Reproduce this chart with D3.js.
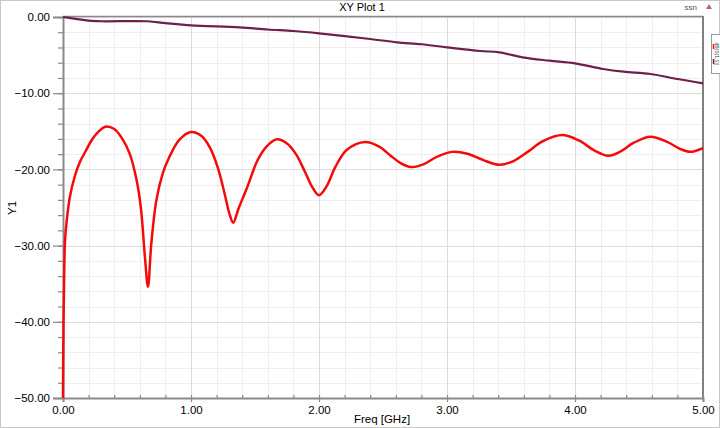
<!DOCTYPE html>
<html><head><meta charset="utf-8">
<script src="https://cdn.jsdelivr.net/npm/d3@7"></script>
<style>body{margin:0;background:#fff}svg{display:block;font-family:"Liberation Sans",Arial,sans-serif}</style>
</head><body>
<svg id="c" width="720" height="428"></svg>
<script>
const title = "XY Plot 1";
const xLabel = "Freq [GHz]";
const yLabel = "Y1";
const xTicks = [0, 1, 2, 3, 4, 5];
const yTicks = [0, -10, -20, -30, -40, -50];

const redFreq = [0,0.004,0.01,0.016,0.03,0.055,0.094,0.133,0.18,0.23,0.28,0.33,0.40,0.46,0.52,0.575,0.61,0.64,0.664,0.69,0.73,0.78,0.83,0.91,1.0,1.08,1.15,1.21,1.26,1.30,1.33,1.37,1.44,1.52,1.59,1.67,1.75,1.82,1.89,1.95,2.0,2.06,2.13,2.22,2.36,2.47,2.56,2.64,2.73,2.82,2.92,3.04,3.16,3.28,3.41,3.52,3.63,3.75,3.90,4.03,4.15,4.26,4.35,4.46,4.59,4.72,4.82,4.9,5.0];
const redDb = [-50,-40,-33,-29.3,-26.6,-23.5,-20.8,-19.0,-17.5,-16.0,-15.0,-14.4,-14.7,-15.9,-17.9,-21.4,-25.3,-31.5,-35.4,-29.7,-24.0,-20.5,-18.4,-16.1,-15.1,-15.6,-17.2,-19.8,-23.0,-25.8,-27.0,-25.2,-22.3,-18.8,-17.0,-16.05,-16.6,-18.0,-20.3,-22.4,-23.4,-22.2,-19.6,-17.4,-16.4,-17.0,-18.2,-19.2,-19.7,-19.3,-18.35,-17.7,-17.95,-18.75,-19.4,-18.9,-17.7,-16.3,-15.5,-16.2,-17.5,-18.2,-17.7,-16.5,-15.7,-16.4,-17.3,-17.7,-17.2];

const purpleFreq = [0,0.1,0.2,0.3,0.66,0.8,1.0,1.38,1.6,1.8,2.0,2.4,2.61,2.8,3.0,3.26,3.41,3.59,3.8,4.0,4.22,4.38,4.59,4.8,5.0];
const purpleDb = [0,-0.25,-0.48,-0.56,-0.56,-0.8,-1.1,-1.35,-1.64,-1.84,-2.14,-2.89,-3.32,-3.58,-3.98,-4.46,-4.64,-5.29,-5.73,-6.08,-6.82,-7.18,-7.48,-8.14,-8.7];

const svg = d3.select("#c");
const L = 63, R = 703, T = 17, B = 398;
const x = d3.scaleLinear().domain([0, 5]).range([L, R]);
const y = d3.scaleLinear().domain([-50, 0]).range([B, T]);

// outer border
svg.append("rect").attr("x", 0.5).attr("y", 0.5).attr("width", 719).attr("height", 427)
  .attr("fill", "#fff").attr("stroke", "#c8c8c8");

// grid
const minorX = d3.range(0, 5.0001, 0.2);
const minorY = d3.range(-50, 0.0001, 2);
const g = svg.append("g");
g.selectAll(".mx").data(minorX).join("line")
  .attr("x1", d => Math.round(x(d)) + 0.5).attr("x2", d => Math.round(x(d)) + 0.5)
  .attr("y1", T).attr("y2", B).attr("stroke", "#efefef");
g.selectAll(".my").data(minorY).join("line")
  .attr("y1", d => Math.round(y(d)) + 0.5).attr("y2", d => Math.round(y(d)) + 0.5)
  .attr("x1", L).attr("x2", R).attr("stroke", "#efefef");
g.selectAll(".Mx").data(xTicks).join("line")
  .attr("x1", d => Math.round(x(d)) + 0.5).attr("x2", d => Math.round(x(d)) + 0.5)
  .attr("y1", T).attr("y2", B).attr("stroke", "#dcdcdc");
g.selectAll(".My").data(yTicks).join("line")
  .attr("y1", d => Math.round(y(d)) + 0.5).attr("y2", d => Math.round(y(d)) + 0.5)
  .attr("x1", L).attr("x2", R).attr("stroke", "#dcdcdc");

// frame lines
svg.append("line").attr("x1", L).attr("x2", R).attr("y1", T - 0.5).attr("y2", T - 0.5).attr("stroke", "#8a8a8a").attr("stroke-width", 1.5);
svg.append("line").attr("x1", R).attr("x2", R).attr("y1", T - 1).attr("y2", B + 1).attr("stroke", "#808080").attr("stroke-width", 2);

// axes
const xAxis = d3.axisBottom(x).tickValues(xTicks).tickFormat(d3.format(".2f")).tickSize(4).tickPadding(4);
const xMinor = d3.axisBottom(x).tickValues(minorX).tickFormat("").tickSize(-3);
const yAxis = d3.axisLeft(y).tickValues(yTicks).tickFormat(d3.format(".2f")).tickSize(10).tickPadding(3);
const yMinor = d3.axisLeft(y).tickValues(minorY).tickFormat("").tickSize(5);

function style(sel) {
  sel.select(".domain").attr("stroke", "#8a8a8a").attr("stroke-width", 2);
  sel.selectAll(".tick line").attr("stroke", "#8a8a8a").attr("stroke-width", 1.2);
  sel.selectAll("text").attr("fill", "#000").style("font-size", "11.5px").style("font-family", "Liberation Sans, Arial, sans-serif");
}
svg.append("g").attr("transform", `translate(0,${B})`).call(xMinor).call(style).select(".domain").remove();
svg.append("g").attr("transform", `translate(0,${B})`).call(xAxis).call(style);
svg.append("g").attr("transform", `translate(${L},0)`).call(yMinor).call(style).select(".domain").remove();
svg.append("g").attr("transform", `translate(${L},0)`).call(yAxis).call(style);

// lines
const line = d3.line().x(d => x(d[0])).y(d => y(d[1])).curve(d3.curveCatmullRom.alpha(0.5));
svg.append("path").datum(purpleFreq.map((f, i) => [f, purpleDb[i]]))
  .attr("d", line).attr("fill", "none").attr("stroke", "#6e1f4a").attr("stroke-width", 2.2);
svg.append("path").datum(redFreq.map((f, i) => [f, redDb[i]]))
  .attr("d", line).attr("fill", "none").attr("stroke", "#f50a0a").attr("stroke-width", 2.5)
  .attr("stroke-linejoin", "round");

// titles
svg.append("text").attr("x", 362).attr("y", 11).attr("text-anchor", "middle")
  .style("font-size", "11px").text(title);
svg.append("text").attr("x", 382).attr("y", 423).attr("text-anchor", "middle")
  .style("font-size", "11.5px").text(xLabel);
svg.append("text").attr("transform", "translate(16,208) rotate(-90)").attr("text-anchor", "middle")
  .style("font-size", "11.5px").text(yLabel);

// small annotations top-right
svg.append("text").attr("x", 697).attr("y", 10).attr("text-anchor", "end")
  .style("font-size", "8px").attr("fill", "#555").text("ssn");
svg.append("path").attr("d", "M706,9 L709,4 L712,9 Z").attr("fill", "#c06080");

// legend stub
const lg = svg.append("g");
lg.append("rect").attr("x", 711.5).attr("y", 34.5).attr("width", 14).attr("height", 39)
  .attr("fill", "#fff").attr("stroke", "#999");
lg.append("line").attr("x1", 713.5).attr("x2", 713.5).attr("y1", 44).attr("y2", 49).attr("stroke", "#f50a0a").attr("stroke-width", 1.5);
lg.append("line").attr("x1", 713.5).attr("x2", 713.5).attr("y1", 59).attr("y2", 64).attr("stroke", "#6e1f4a").attr("stroke-width", 1.5);
lg.append("text").attr("transform", "translate(715,54) rotate(90)").attr("text-anchor", "middle")
  .style("font-size", "5px").attr("fill", "#444").text("dB(S(1,1))");
</script>
</body></html>
